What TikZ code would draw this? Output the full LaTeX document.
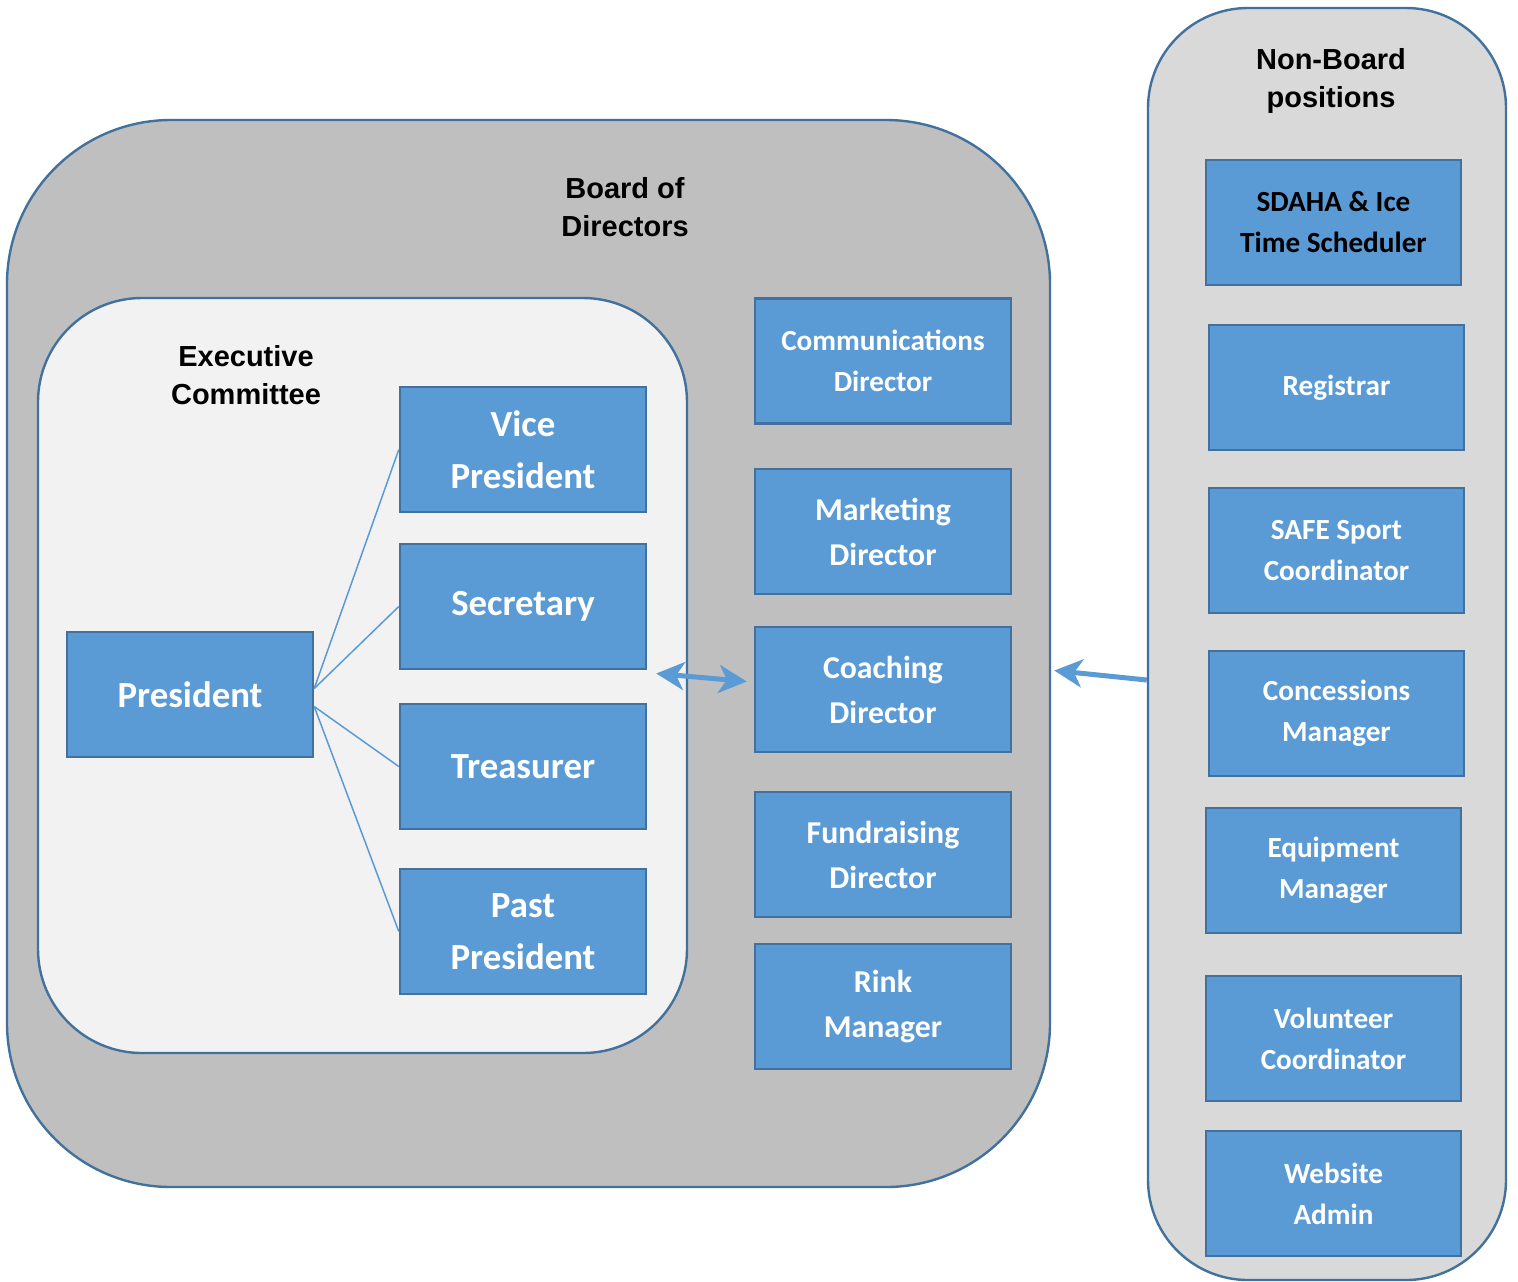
\documentclass[tikz,border=0pt]{standalone}
\usepackage{fontspec}
\setmainfont{Carlito}
\newfontfamily\headfont{Liberation Sans}
\usetikzlibrary{arrows.meta}
\definecolor{boxblue}{HTML}{5B9BD5}
\definecolor{edgeblue}{HTML}{41719C}
\definecolor{boardgray}{HTML}{BFBFBF}
\definecolor{execgray}{HTML}{F2F2F2}
\definecolor{nbgray}{HTML}{D9D9D9}

\begin{document}
\begin{tikzpicture}[x=0.5pt, y=-0.5pt, panel/.style={rectangle, draw=edgeblue, line width=1.2pt}, head/.style={font=\headfont\bfseries\fontsize{14.5}{19}\selectfont, align=center}, box/.style={rectangle, draw=edgeblue, fill=boxblue, line width=1.2pt, text=white, align=center, minimum height=62.5pt, inner sep=2pt}, bigbox/.style={box, minimum width=123pt, font=\bfseries\fontsize{18.4}{26}\selectfont}, midbox/.style={box, minimum width=128pt, font=\bfseries\fontsize{15.9}{22.5}\selectfont}, smallbox/.style={box, minimum width=127.5pt, font=\bfseries\fontsize{14.6}{20.5}\selectfont}, link/.style={draw=boxblue, line width=0.75pt}, arr/.style={-{Stealth[length=14pt, width=14pt, inset=4pt]}, draw=boxblue, line width=2.5pt}, darr/.style={{Stealth[length=14pt, width=14pt, inset=4pt]}-{Stealth[length=14pt, width=14pt, inset=4pt]}, draw=boxblue, line width=2.5pt}]
        \useasboundingbox (0,0) rectangle (1518,1281);
        % groups
        \node[panel, fill=boardgray, rounded corners=82pt, minimum width=521.5pt, minimum height=533.5pt] (board) at (528.5,653.5) {};
        \node[panel, fill=execgray, rounded corners=52pt, minimum width=324.5pt, minimum height=377.5pt] (exec) at (362.5,675.5) {};
        \node[panel, fill=nbgray, rounded corners=50pt, minimum width=179pt, minimum height=636pt] (nonboard) at (1327,644) {};
        \node[head] (boardhd) at (625,207) {Board of\\Directors};
        \node[head] (exechd) at (246,375) {Executive\\Committee};
        \node[head] (nbhd) at (1331,81) {Non-Board\\positions};
        % executive committee
        \node[bigbox] (pres) at (190,694.5) {President};
        \node[bigbox] (vp) at (523,449.5) {Vice\\President};
        \node[bigbox] (sec) at (523,606.5) {Secretary};
        \node[bigbox] (treas) at (523,766.5) {Treasurer};
        \node[bigbox] (past) at (523,931.5) {Past\\President};
        % directors
        \node[midbox, font=\bfseries\fontsize{14.6}{20.5}\selectfont] (comm) at (883,361) {Communications\\Director};
        \node[midbox] (mkt) at (883,531.5) {Marketing\\Director};
        \node[midbox] (coach) at (883,689.5) {Coaching\\Director};
        \node[midbox] (fund) at (883,854.5) {Fundraising\\Director};
        \node[midbox] (rink) at (883,1006.5) {Rink\\Manager};
        % non-board
        \node[smallbox, text=black] (sdaha) at (1333.5,222.5) {SDAHA \& Ice\\Time Scheduler};
        \node[smallbox] (reg) at (1336.5,387.5) {Registrar};
        \node[smallbox] (safe) at (1336.5,550.5) {SAFE Sport\\Coordinator};
        \node[smallbox] (conc) at (1336.5,713.5) {Concessions\\Manager};
        \node[smallbox] (equip) at (1333.5,870.5) {Equipment\\Manager};
        \node[smallbox] (vol) at (1333.5,1038.5) {Volunteer\\Coordinator};
        \node[smallbox] (web) at (1333.5,1193.5) {Website\\Admin};
        % edges
        \draw[link] ([yshift=3pt]pres.east) -- (vp.west);
        \draw[link] ([yshift=3pt]pres.east) -- (sec.west);
        \draw[link] ([yshift=-6pt]pres.east) -- (treas.west);
        \draw[link] ([yshift=-6pt]pres.east) -- (past.west);
        \draw[darr] ([xshift=-16pt,yshift=1pt]exec.east) -- ([xshift=-3.5pt,yshift=4pt]coach.west);
        \draw[arr] ([yshift=-18pt]nonboard.west) -- ([xshift=1.5pt,yshift=-8.5pt]board.east);
    \end{tikzpicture}
\end{document}
